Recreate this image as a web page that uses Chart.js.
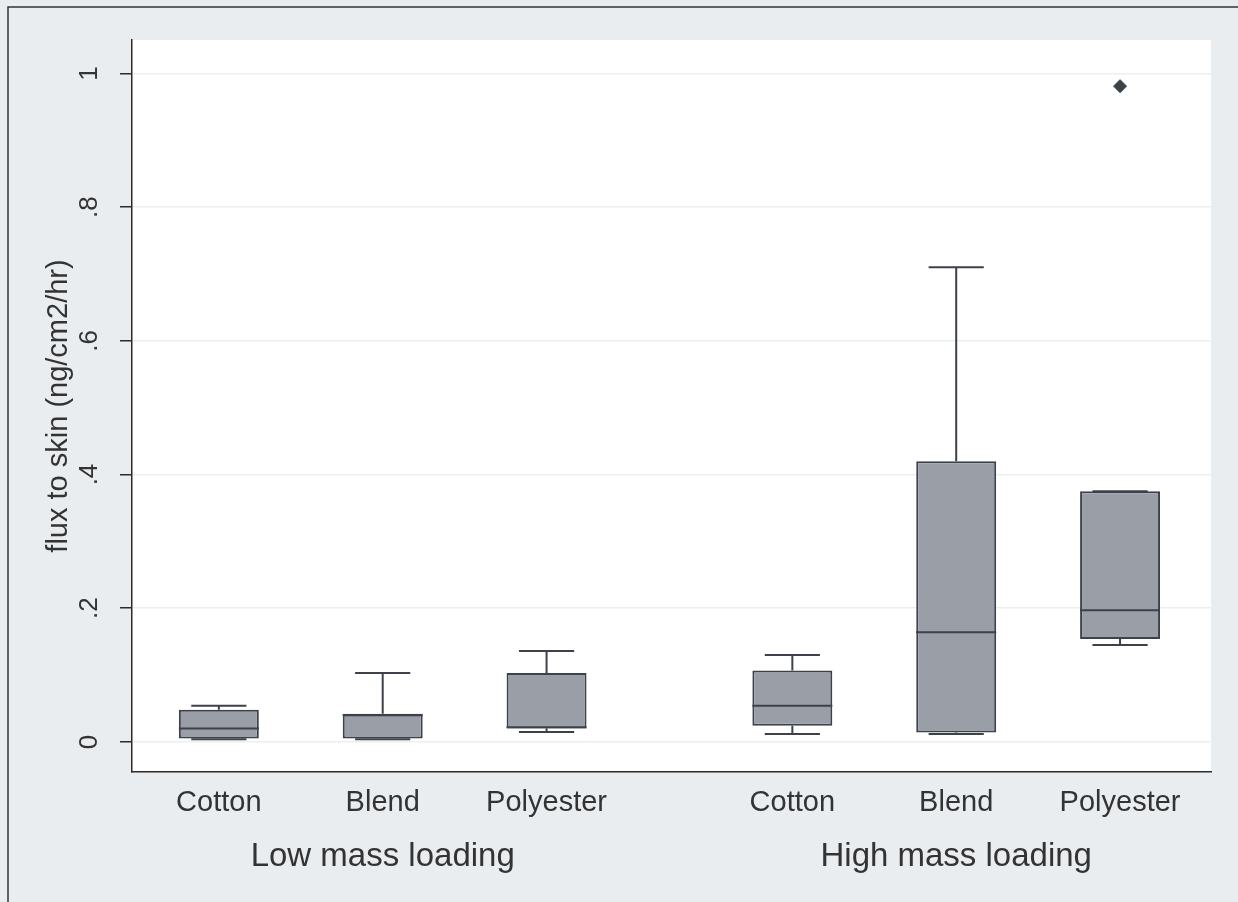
<!DOCTYPE html>
<html>
<head>
<meta charset="utf-8">
<script src="https://cdn.jsdelivr.net/npm/chart.js@4.4.1/dist/chart.umd.min.js"></script>
<style>
html, body { margin: 0; padding: 0; background: #e9edf0; }
</style>
</head>
<body>
<canvas id="boxChart" width="1238" height="902"></canvas>
<script>
// data
const categories = ['Cotton', 'Blend', 'Polyester', 'Cotton', 'Blend', 'Polyester'];
const groups = ['Low mass loading', 'High mass loading'];
const xPositions = [1, 2, 3, 4.5, 5.5, 6.5];
const groupPositions = [2, 5.5];
const whiskerLow = [0.004, 0.004, 0.015, 0.012, 0.012, 0.145];
const q1 = [0.005, 0.005, 0.020, 0.024, 0.014, 0.154];
const medians = [0.020, 0.040, 0.022, 0.054, 0.164, 0.197];
const q3 = [0.048, 0.042, 0.103, 0.107, 0.420, 0.375];
const whiskerHigh = [0.054, 0.103, 0.136, 0.130, 0.710, 0.375];
const outliers = [{ x: 6.5, y: 0.981 }];
const yTicks = [0, 0.2, 0.4, 0.6, 0.8, 1];
const yTickLabels = ['0', '.2', '.4', '.6', '.8', '1'];

const font = '"Liberation Sans", Arial, Helvetica, sans-serif';
const textColor = '#333333';
const lineColor = '#3d424a';
const xMin = 0.47, xMax = 7.055;

const backdrop = {
    id: 'backdrop',
    beforeDraw(chart) {
        const { ctx, chartArea: a, width, height } = chart;
        ctx.save();
        ctx.fillStyle = '#e9edf0';
        ctx.fillRect(0, 0, width, height);
        ctx.fillStyle = '#ffffff';
        ctx.fillRect(a.left, a.top, a.right - a.left, a.bottom - a.top);
        ctx.strokeStyle = '#333333';
        ctx.lineWidth = 1.5;
        ctx.beginPath();
        ctx.moveTo(8, height);
        ctx.lineTo(8, 7);
        ctx.lineTo(width, 7);
        ctx.stroke();
        ctx.restore();
    }
};

// whiskers, caps and medians on top of the boxes
const whiskers = {
    id: 'whiskers',
    afterDatasetsDraw(chart) {
        const { ctx, scales: { x, y } } = chart;
        const bars = chart.getDatasetMeta(0).data;
        ctx.save();
        ctx.strokeStyle = lineColor;
        ctx.lineWidth = 2;
        xPositions.forEach((pos, i) => {
            const cx = x.getPixelForValue(pos);
            const boxW = bars[i].width;
            const capW = boxW * 0.69;
            const yHi = y.getPixelForValue(whiskerHigh[i]);
            const yLo = y.getPixelForValue(whiskerLow[i]);
            const yQ1 = y.getPixelForValue(q1[i]);
            const yQ3 = y.getPixelForValue(q3[i]);
            const yMed = y.getPixelForValue(medians[i]);
            ctx.beginPath();
            ctx.moveTo(cx, yQ3); ctx.lineTo(cx, yHi);
            ctx.moveTo(cx - capW / 2, yHi); ctx.lineTo(cx + capW / 2, yHi);
            ctx.moveTo(cx, yQ1); ctx.lineTo(cx, yLo);
            ctx.moveTo(cx - capW / 2, yLo); ctx.lineTo(cx + capW / 2, yLo);
            ctx.moveTo(cx - boxW / 2, yMed); ctx.lineTo(cx + boxW / 2, yMed);
            ctx.stroke();
        });
        ctx.restore();
    }
};

new Chart(document.getElementById('boxChart').getContext('2d'), {
    type: 'bar',
    data: {
        datasets: [{
            data: xPositions.map((p, i) => ({ x: p, y: [q1[i], q3[i]] })),
            backgroundColor: '#9a9fa7',
            borderColor: lineColor,
            borderWidth: 2,
            borderSkipped: false,
            categoryPercentage: 1,
            barPercentage: 0.488
        }, {
            type: 'scatter',
            data: outliers,
            pointStyle: 'rectRot',
            pointRadius: 6.5,
            backgroundColor: lineColor,
            borderColor: lineColor
        }]
    },
    options: {
        responsive: false,
        animation: false,
        layout: { padding: { left: 0, right: 27, top: 40, bottom: 0 } },
        plugins: {
            legend: { display: false },
            tooltip: { enabled: false }
        },
        scales: {
            x: {
                type: 'linear',
                position: 'bottom',
                offset: false,
                min: xMin,
                max: xMax,
                afterBuildTicks: s => { s.ticks = xPositions.map(v => ({ value: v })); },
                afterFit: s => { s.height = 52; },
                ticks: {
                    autoSkip: false,
                    maxRotation: 0,
                    padding: 14,
                    color: textColor,
                    font: { family: font, size: 29 },
                    callback: (v, i) => categories[i]
                },
                grid: { display: false, drawTicks: false, offset: false },
                border: { display: true, color: '#2b2b2b', width: 1.5 }
            },
            x2: {
                type: 'linear',
                position: 'bottom',
                offset: false,
                weight: 1,
                min: xMin,
                max: xMax,
                afterBuildTicks: s => { s.ticks = groupPositions.map(v => ({ value: v })); },
                afterFit: s => { s.height = 78; },
                ticks: {
                    autoSkip: false,
                    maxRotation: 0,
                    padding: 13,
                    color: textColor,
                    font: { family: font, size: 33 },
                    callback: (v, i) => groups[i]
                },
                grid: { display: false, drawTicks: false, offset: false },
                border: { display: false }
            },
            y: {
                type: 'linear',
                min: -0.045,
                max: 1.05,
                afterBuildTicks: s => { s.ticks = yTicks.map(v => ({ value: v })); },
                afterFit: s => { s.width = 132; },
                ticks: {
                    minRotation: 90,
                    maxRotation: 90,
                    crossAlign: 'center',
                    padding: 19,
                    color: textColor,
                    font: { family: font, size: 26 },
                    callback: (v, i) => yTickLabels[i]
                },
                grid: { color: '#eceff1', lineWidth: 1.5, tickLength: 12, tickColor: '#2b2b2b', tickWidth: 1.5 },
                border: { display: true, color: '#2b2b2b', width: 1.5 },
                title: {
                    display: true,
                    text: 'flux to skin (ng/cm2/hr)',
                    color: textColor,
                    font: { family: font, size: 29 },
                    padding: { top: 42, bottom: 0 }
                }
            }
        }
    },
    plugins: [backdrop, whiskers]
});
</script>
</body>
</html>
